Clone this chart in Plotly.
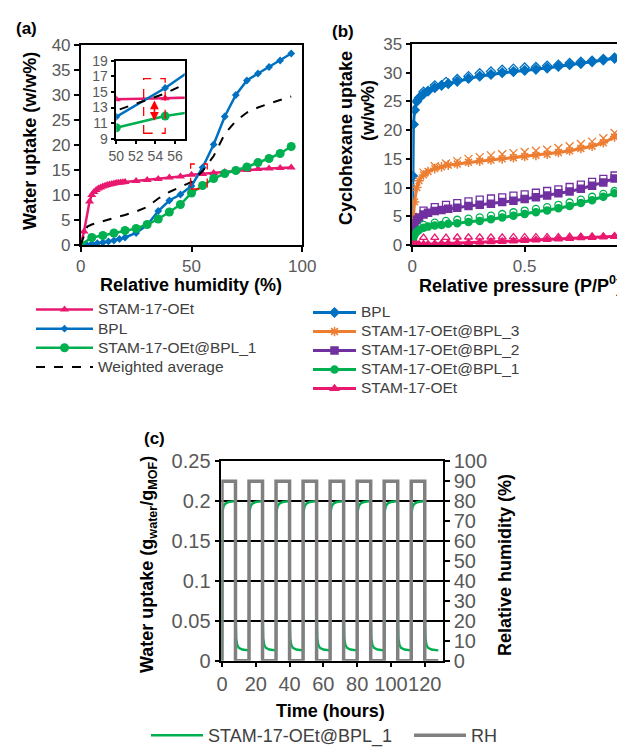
import plotly.graph_objects as go

W, H = 625, 747
FONT = "Liberation Sans, Arial, sans-serif"
TICK_C = "#595959"

PINK = "#E8196F"
BLUE = "#0070C0"
GREEN = "#00B050"
ORANGE = "#ED7D31"
PURPLE = "#7030A0"
GRAY = "#808080"

# ---------------- (a) water uptake isotherms ----------------
rh_stam = [0, 1.5, 4, 5, 6, 7, 8, 9, 10, 11, 12, 13, 14, 15, 16, 17, 18, 19, 20,
           25, 30, 35, 40, 45, 50, 55, 60, 65, 70, 75, 80, 85, 90, 95]
up_stam = [0, 2.7, 8.7, 10.0, 10.6, 11.0, 11.3, 11.5, 11.7, 11.85, 12.0, 12.1, 12.2, 12.3, 12.4, 12.45, 12.5, 12.55, 12.6,
           12.8, 13.0, 13.2, 13.5, 13.7, 14.05, 14.2, 14.4, 14.6, 14.8, 15.0, 15.2, 15.3, 15.4, 15.5]

rh_bpl = [0, 2.5, 5, 7.5, 10, 12.5, 15, 17.5, 20, 25, 30, 35, 40, 45, 50, 55, 60, 65, 70, 75, 80, 85, 90, 95]
up_bpl = [0, 0.1, 0.2, 0.35, 0.5, 0.7, 0.9, 1.2, 1.5, 2.4, 4.0, 6.8, 8.9, 10.1, 11.8, 15.5, 20.1, 25.7, 30.0, 32.9, 34.3, 35.6, 36.9, 38.3]

rh_comp = [0, 5, 10, 15, 20, 25, 30, 35, 40, 45, 50, 55, 60, 65, 70, 75, 80, 85, 90, 95]
up_comp = [0, 1.5, 1.9, 2.4, 2.9, 3.3, 4.1, 5.2, 6.6, 8.1, 10.4, 11.9, 13.3, 14.3, 14.9, 15.6, 16.5, 17.3, 18.3, 19.7]

rh_wavg = [0, 3, 5, 10, 15, 20, 25, 30, 35, 40, 45, 50, 55, 60, 65, 70, 75, 80, 85, 90, 95]
up_wavg = [0, 3.7, 4.1, 4.8, 5.4, 6.0, 6.7, 7.6, 9.3, 10.6, 11.6, 12.6, 14.8, 17.8, 22.2, 24.8, 26.5, 27.5, 28.3, 29.0, 29.7]

# ---------------- (b) cyclohexane isotherms ----------------
p_ads = [0, 0.002, 0.005, 0.01, 0.02, 0.03, 0.05, 0.07, 0.1, 0.13, 0.16, 0.2, 0.25, 0.3,
         0.35, 0.4, 0.45, 0.5, 0.55, 0.6, 0.65, 0.7, 0.75, 0.8, 0.85, 0.9, 0.95]
bpl_ads = [0, 12, 21, 23.5, 25, 25.6, 26.3, 26.8, 27.4, 27.8, 28.1, 28.5, 29.0, 29.4,
           29.7, 30.0, 30.2, 30.4, 30.6, 30.8, 31.1, 31.4, 31.6, 31.9, 32.2, 32.5, 32.9]
b3_ads = [0.5, 3, 5, 7.5, 10, 11.2, 12.2, 12.8, 13.3, 13.6, 13.9, 14.1, 14.4, 14.6,
          14.8, 15.0, 15.2, 15.4, 15.6, 15.8, 16.1, 16.4, 16.8, 17.2, 17.8, 18.8, 20.6]
b2_ads = [1, 2.5, 3.2, 3.8, 4.4, 4.8, 5.3, 5.6, 5.9, 6.1, 6.3, 6.5, 6.8, 7.0,
          7.2, 7.5, 7.7, 8.0, 8.3, 8.6, 9.0, 9.3, 9.8, 10.3, 10.9, 11.6, 12.6]
b1_ads = [0.3, 0.8, 1.3, 1.8, 2.3, 2.6, 3.0, 3.2, 3.4, 3.5, 3.7, 3.8, 4.0, 4.2,
          4.5, 4.8, 5.1, 5.4, 5.7, 6.0, 6.4, 6.8, 7.3, 7.8, 8.4, 9.0, 9.7]
st_ads = [0, 0.02, 0.04, 0.06, 0.08, 0.1, 0.12, 0.15, 0.2, 0.25, 0.3, 0.35, 0.4, 0.48,
          0.55, 0.62, 0.7, 0.8, 0.88, 0.95, 1.05, 1.15, 1.25, 1.32, 1.4, 1.5, 1.6]

p_des = [0.95, 0.9, 0.85, 0.8, 0.75, 0.7, 0.65, 0.6, 0.55, 0.5, 0.45, 0.4, 0.35, 0.3, 0.25, 0.2, 0.15, 0.1, 0.05]
bpl_des = [32.9, 32.6, 32.4, 32.1, 31.9, 31.7, 31.4, 31.2, 31.0, 30.9, 30.7, 30.5, 30.2, 29.9, 29.4, 28.9, 28.4, 27.8, 26.7]
b3_des = [20.8, 19.5, 18.6, 18.0, 17.6, 17.2, 16.9, 16.6, 16.4, 16.2, 16.0, 15.8, 15.6, 15.3, 15.0, 14.6, 14.2, 13.7, 12.6]
b2_des = [12.6, 12.1, 11.5, 11.0, 10.5, 10.1, 9.7, 9.4, 9.1, 8.8, 8.6, 8.3, 8.1, 7.9, 7.6, 7.3, 7.0, 6.6, 6.0]
b1_des = [9.8, 9.4, 8.9, 8.4, 7.9, 7.4, 7.0, 6.6, 6.3, 6.0, 5.7, 5.4, 5.1, 4.8, 4.6, 4.4, 4.2, 3.9, 3.5]
st_des = [1.6, 1.55, 1.5, 1.5, 1.45, 1.45, 1.4, 1.4, 1.4, 1.4, 1.4, 1.35, 1.35, 1.35, 1.35, 1.35, 1.3, 1.3, 1.3]

# ---------------- (c) cycling ----------------
cyc_t = [0, 0.15, 0.4, 1, 2, 4, 8, 8.15, 8.4, 9, 10, 12,
         16, 16.15, 16.4, 17, 18, 20, 24, 24.15, 24.4, 25, 26, 28,
         32, 32.15, 32.4, 33, 34, 36, 40, 40.15, 40.4, 41, 42, 44,
         48, 48.15, 48.4, 49, 50, 52, 56, 56.15, 56.4, 57, 58, 60,
         64, 64.15, 64.4, 65, 66, 68, 72, 72.15, 72.4, 73, 74, 76,
         80, 80.15, 80.4, 81, 82, 84, 88, 88.15, 88.4, 89, 90, 92,
         96, 96.15, 96.4, 97, 98, 100, 104, 104.15, 104.4, 105, 106, 108,
         112, 112.15, 112.4, 113, 114, 116, 120, 120.15, 120.4, 121, 122, 124, 128]
cyc_up = [0, 0.17, 0.188, 0.194, 0.197, 0.199, 0.2, 0.05, 0.028, 0.02, 0.016, 0.014,
          0.013, 0.17, 0.188, 0.194, 0.197, 0.199, 0.2, 0.05, 0.028, 0.02, 0.016, 0.014,
          0.013, 0.17, 0.188, 0.194, 0.197, 0.199, 0.2, 0.05, 0.028, 0.02, 0.016, 0.014,
          0.013, 0.17, 0.188, 0.194, 0.197, 0.199, 0.2, 0.05, 0.028, 0.02, 0.016, 0.014,
          0.013, 0.17, 0.188, 0.194, 0.197, 0.199, 0.2, 0.05, 0.028, 0.02, 0.016, 0.014,
          0.013, 0.17, 0.188, 0.194, 0.197, 0.199, 0.2, 0.05, 0.028, 0.02, 0.016, 0.014,
          0.013, 0.17, 0.188, 0.194, 0.197, 0.199, 0.2, 0.05, 0.028, 0.02, 0.016, 0.014,
          0.013, 0.17, 0.188, 0.194, 0.197, 0.199, 0.2, 0.05, 0.028, 0.02, 0.016, 0.014, 0.013]
rh_t = [0, 0, 8, 8, 16, 16, 24, 24, 32, 32, 40, 40, 48, 48, 56, 56, 64, 64,
        72, 72, 80, 80, 88, 88, 96, 96, 104, 104, 112, 112, 120, 120, 128]
rh_v = [0, 90, 90, 0, 0, 90, 90, 0, 0, 90, 90, 0, 0, 90, 90, 0, 0, 90, 90, 0,
        0, 90, 90, 0, 0, 90, 90, 0, 0, 90, 90, 0, 0]


def fx(p):
    return p / W


def fy(p):
    return 1 - p / H


def lg(text, size=15.5):
    return f'<span style="font-size:{size}px">{text}</span>'


fig = go.Figure()


def add_a(xref, yref, legend=True):
    lw = 2.5
    fig.add_trace(go.Scatter(x=rh_stam, y=up_stam, name=lg("STAM-17-OEt"), mode="lines+markers",
                             line=dict(color=PINK, width=lw), marker=dict(symbol="triangle-up", size=8, color=PINK),
                             xaxis=xref, yaxis=yref, showlegend=legend, legend="legend"))
    fig.add_trace(go.Scatter(x=rh_bpl, y=up_bpl, name=lg("BPL"), mode="lines+markers",
                             line=dict(color=BLUE, width=lw), marker=dict(symbol="diamond", size=6, color=BLUE),
                             xaxis=xref, yaxis=yref, showlegend=legend, legend="legend"))
    fig.add_trace(go.Scatter(x=rh_comp, y=up_comp, name=lg("STAM-17-OEt@BPL_1"), mode="lines+markers",
                             line=dict(color=GREEN, width=lw), marker=dict(symbol="circle", size=9, color=GREEN),
                             xaxis=xref, yaxis=yref, showlegend=legend, legend="legend"))
    fig.add_trace(go.Scatter(x=rh_wavg, y=up_wavg, name=lg("Weighted average"), mode="lines",
                             line=dict(color="black", width=2, dash="dash"),
                             xaxis=xref, yaxis=yref, showlegend=legend, legend="legend"))


add_a("x", "y", True)
add_a("x2", "y2", False)

# ---- (b) ----
series_b = [
    ("BPL", BLUE, "diamond", "diamond-open", bpl_ads, bpl_des, 7),
    ("STAM-17-OEt@BPL_3", ORANGE, "asterisk-open", "x-thin-open", b3_ads, b3_des, 8),
    ("STAM-17-OEt@BPL_2", PURPLE, "square", "square-open", b2_ads, b2_des, 7),
    ("STAM-17-OEt@BPL_1", GREEN, "circle", "circle-open", b1_ads, b1_des, 7),
    ("STAM-17-OEt", PINK, "triangle-up", "triangle-up-open", st_ads, st_des, 7),
]
for name, col, sym, osym, ads, des, ms in series_b:
    fig.add_trace(go.Scatter(x=p_des, y=des, mode="markers", showlegend=False,
                             marker=dict(symbol=osym, size=ms, color=col, line=dict(color=col, width=1.3)),
                             xaxis="x3", yaxis="y3"))
    fig.add_trace(go.Scatter(x=p_ads, y=ads, mode="lines+markers", name=lg(name), legend="legend2",
                             line=dict(color=col, width=3),
                             marker=dict(symbol=sym, size=ms, color=col, line=dict(color=col, width=1.5)),
                             xaxis="x3", yaxis="y3"))

# ---- (c) ----
fig.add_trace(go.Scatter(x=cyc_t, y=cyc_up, mode="lines", name="STAM-17-OEt@BPL_1", legend="legend3",
                         line=dict(color=GREEN, width=2.4), xaxis="x4", yaxis="y4"))
fig.add_trace(go.Scatter(x=rh_t, y=rh_v, mode="lines", name="RH", legend="legend3",
                         line=dict(color=GRAY, width=3.5), xaxis="x4", yaxis="y5"))

ax_common = dict(showline=True, linecolor="black", linewidth=1.5, ticks="outside", ticklen=5,
                 tickcolor="black", tickwidth=1.5, showgrid=False, zeroline=False, tickangle=0,
                 tickfont=dict(family=FONT, size=17, color=TICK_C))
small = {**ax_common, "tickfont": dict(family=FONT, size=14, color=TICK_C), "ticklen": 4}
big = {**ax_common, "tickfont": dict(family=FONT, size=20, color=TICK_C)}

lay = dict(
    width=W, height=H, margin=dict(l=0, r=0, t=0, b=0, autoexpand=False),
    paper_bgcolor="white", plot_bgcolor="white",
    font=dict(family=FONT),
    xaxis=dict(domain=[fx(72.7), fx(294.3)], anchor="y", range=[0, 100], tickvals=[0, 50, 100], mirror=True, **ax_common),
    yaxis=dict(domain=[fy(237), fy(37)], anchor="x", range=[0, 40], dtick=5, mirror=True, **ax_common),
    xaxis2=dict(domain=[fx(108.3), fx(176.7)], anchor="y2", range=[50, 57], tickvals=[50, 52, 54, 56], mirror=True, **small),
    yaxis2=dict(domain=[fy(130.7), fy(52.7)], anchor="x2", range=[9, 19], tickvals=[9, 11, 13, 15, 17, 19], mirror=True, **small),
    xaxis3=dict(domain=[fx(404.3), fx(625)], anchor="y3", range=[0, 0.982], tickvals=[0, 0.5, 1], mirror=True, **ax_common),
    yaxis3=dict(domain=[fy(237), fy(36)], anchor="x3", range=[0, 35], dtick=5, mirror=True, **ax_common),
    xaxis4=dict(domain=[fx(213.3), fx(435)], anchor="y4", range=[-0.4, 130.8], dtick=20, mirror=True, **big),
    yaxis4=dict(domain=[fy(652.7), fy(453.3)], anchor="x4", range=[0, 0.25], dtick=0.05,
                **{**big, "showgrid": True, "gridcolor": "black", "gridwidth": 1.5}),
    yaxis5=dict(overlaying="y4", anchor="x4", side="right", range=[0, 100], dtick=10, **big),
    legend=dict(x=fx(23), y=fy(287), xanchor="left", yanchor="top", bgcolor="rgba(0,0,0,0)",
                font=dict(family=FONT, size=12.4, color="#404040"), itemwidth=57, tracegroupgap=0),
    legend2=dict(x=fx(300), y=fy(290), xanchor="left", yanchor="top", bgcolor="rgba(0,0,0,0)",
                 font=dict(family=FONT, size=11.6, color="#404040"), itemwidth=43, tracegroupgap=0),
    legend3=dict(x=fx(138), y=fy(709), xanchor="left", yanchor="top", bgcolor="rgba(0,0,0,0)", orientation="h",
                 font=dict(family=FONT, size=18, color="#404040"), itemwidth=52,
                 entrywidth=196, entrywidthmode="pixels"),
)
fig.update_layout(**lay)

# inset background + red boxes
fig.add_shape(type="rect", xref="x2 domain", yref="y2 domain", x0=0, x1=1, y0=0, y1=1,
              fillcolor="white", line=dict(width=0), layer="below")
fig.add_shape(type="rect", xref="x", yref="y", x0=49.6, x1=57.1, y0=11.2, y1=16.2,
              line=dict(color="red", width=1.3, dash="dash"))
fig.add_shape(type="rect", xref="x2", yref="y2", x0=52.8, x1=55.0, y0=9.7, y1=16.7,
              line=dict(color="red", width=1.3, dash="dash"))
fig.add_annotation(xref="x2", yref="y2", axref="x2", ayref="y2", x=53.9, y=11.3, ax=53.9, ay=14.1,
                   showarrow=True, arrowhead=2, startarrowhead=2, arrowside="end+start", arrowsize=1.1,
                   startarrowsize=1.1, arrowwidth=1.6, arrowcolor="red", text="")


def ann(text, x, y, size=18, angle=0, color="black", bold=True):
    fig.add_annotation(xref="paper", yref="paper", x=fx(x), y=fy(y), text=(f"<b>{text}</b>" if bold else text),
                       showarrow=False, textangle=angle, xanchor="center", yanchor="middle",
                       font=dict(family=FONT, size=size, color=color))


ann("(a)", 18, 20, 17)
ann("(b)", 335, 23, 17)
ann("(c)", 146, 430, 17)
ann("Water uptake (w/w%)", 22, 133, 18, -90)
ann("Relative humidity (%)", 183, 277, 18)
ann("Cyclohexane uptake", 338, 130, 18, -90)
ann("(w/w%)", 360, 103, 18, -90)
ann("Relative pressure (P/P<sup>0</sup>)", 512, 277, 18)
ann("Water uptake (g<sub>water</sub>/g<sub>MOF</sub>)", 140, 557, 18, -90)
ann("Relative humidity (%)", 497, 557, 18, -90)
ann("Time (hours)", 322, 703, 18)

fig.write_html("out.html")
